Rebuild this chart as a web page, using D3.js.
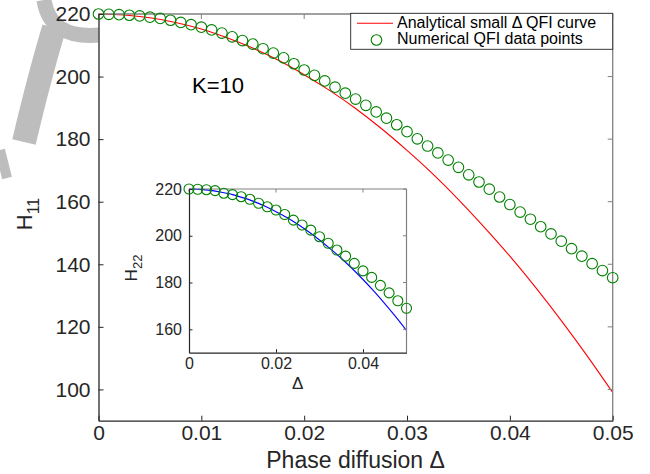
<!DOCTYPE html>
<html><head><meta charset="utf-8">
<script src="https://cdn.jsdelivr.net/npm/d3@7/dist/d3.min.js"></script>
<style>
body{margin:0;background:#fff;}
svg{display:block;font-family:"Liberation Sans",Arial,Helvetica,sans-serif;}
</style></head>
<body>
<svg id="c" width="650" height="474"></svg>
<script>
// ---- data ----
const mainDelta = [0,0.001,0.002,0.003,0.004,0.005,0.006,0.007,0.008,0.009,0.010,0.011,0.012,0.013,0.014,0.015,0.016,0.017,0.018,0.019,0.020,0.021,0.022,0.023,0.024,0.025,0.026,0.027,0.028,0.029,0.030,0.031,0.032,0.033,0.034,0.035,0.036,0.037,0.038,0.039,0.040,0.041,0.042,0.043,0.044,0.045,0.046,0.047,0.048,0.049,0.050];
const mainNumerical = [220.0,219.9,219.8,219.6,219.4,219.0,218.6,218.0,217.3,216.6,215.8,214.9,213.9,212.7,211.5,210.4,208.9,207.5,206.0,204.1,202.1,200.4,198.6,196.6,194.7,192.8,190.8,188.7,186.7,184.6,182.4,180.1,177.8,175.6,173.3,171.0,168.6,166.3,164.0,161.5,159.1,156.7,154.4,152.0,149.7,147.4,145.0,142.6,140.2,138.0,135.7];
const curveDelta = [0,0.0025,0.005,0.0075,0.01,0.0125,0.015,0.0175,0.02,0.0225,0.025,0.0275,0.03,0.0325,0.035,0.0375,0.04,0.0425,0.045,0.0475,0.05];
const mainAnalytical = [220,219.7,218.8,217.3,215.2,212.4,209.1,205.2,200.6,195.5,189.8,183.4,176.4,168.9,160.7,151.9,142.6,132.6,122.0,110.8,99.0];
const insetAnalytical = [220,219.85,219.4,218.6,217.6,216.2,214.6,212.6,210.3,207.8,204.9,201.7,198.2,194.4,190.4,186.0,181.3,176.3,171.0,165.4,159.5];
const insetDelta = [0,0.002,0.004,0.006,0.008,0.010,0.012,0.014,0.016,0.018,0.020,0.022,0.024,0.026,0.028,0.030,0.032,0.034,0.036,0.038,0.040,0.042,0.044,0.046,0.048,0.050];
const insetNumerical = [220.0,219.9,219.7,219.3,218.2,217.6,216.7,215.6,213.9,212.4,211.0,209.1,206.7,204.6,202.4,199.6,196.8,193.9,191.3,188.2,185.0,182.2,178.8,175.6,172.2,169.0];
const mainXTicks = [0,0.01,0.02,0.03,0.04,0.05];
const mainXTickLabels = ["0","0.01","0.02","0.03","0.04","0.05"];
const mainYTicks = [100,120,140,160,180,200,220];
const insetXTicks = [0,0.02,0.04];
const insetXTickLabels = ["0","0.02","0.04"];
const insetYTicks = [160,180,200,220];
const legendLabels = ["Analytical small \u0394 QFI curve","Numerical QFI data points"];

// ---- drawing ----
const svg = d3.select("#c");
const dark = "#262626", grayBox = "#808080";
const green = "#008000";

// faint gray watermark fragments (page decoration, behind the axes)
const wm = svg.append("g").attr("fill","none").attr("stroke","#bdbdbd").attr("stroke-linecap","butt");
wm.append("path").attr("d","M44,0 C48,26 66,38 100,35").attr("stroke-width",15);
wm.append("path").attr("d","M54,28 C42,68 32,108 24,142").attr("stroke-width",24);
wm.append("path").attr("d","M0,150 L7,178").attr("stroke-width",10);

function panel(g, x, y){
  const [x0,x1] = x.range(), [y0,y1] = y.range();
  g.append("rect").attr("x",x0).attr("y",y1).attr("width",x1-x0).attr("height",y0-y1).attr("fill","#fff");
  return g;
}
function frame(g, x, y, o){
  const [x0,x1] = x.range(), [y0,y1] = y.range();
  g.append("line").attr("x1",x0).attr("x2",x1).attr("y1",y1).attr("y2",y1).attr("stroke",grayBox).attr("stroke-width",o.sw);
  g.append("line").attr("x1",x1).attr("x2",x1).attr("y1",y1).attr("y2",y0).attr("stroke",grayBox).attr("stroke-width",o.sw);
  o.xt.forEach(t=>{ g.append("line").attr("x1",x(t)).attr("x2",x(t)).attr("y1",y1).attr("y2",y1+o.tl).attr("stroke",grayBox).attr("stroke-width",1);});
  o.yt.forEach(t=>{ g.append("line").attr("x1",x1).attr("x2",x1-o.tl).attr("y1",y(t)).attr("y2",y(t)).attr("stroke",grayBox).attr("stroke-width",1);});
  const ax = g.append("g").attr("transform",`translate(0,${y0})`)
    .call(d3.axisBottom(x).tickValues(o.xt).tickFormat((d,i)=>o.xl[i]).tickSizeInner(-o.tl).tickSizeOuter(0).tickPadding(o.pad));
  const ay = g.append("g").attr("transform",`translate(${x0},0)`)
    .call(d3.axisLeft(y).tickValues(o.yt).tickFormat(d3.format("d")).tickSizeInner(-o.tl).tickSizeOuter(0).tickPadding(o.padY));
  [ax,ay].forEach(a=>{
    a.select(".domain").attr("stroke",dark).attr("stroke-width",o.sw);
    a.selectAll(".tick line").attr("stroke",dark);
    a.selectAll(".tick text").attr("fill",dark).style("font-size",o.fs+"px");
  });
}

// main
const x = d3.scaleLinear().domain([0,0.05]).range([98.5,612.7]);
const y = d3.scaleLinear().domain([90,220]).range([420.7,14]);
const gMain = svg.append("g");
panel(gMain,x,y);
const line = d3.line().curve(d3.curveMonotoneX);
gMain.append("path").attr("d", line(curveDelta.map((d,i)=>[x(d),y(mainAnalytical[i])])))
  .attr("fill","none").attr("stroke","#ff0000").attr("stroke-width",1.1);
gMain.append("text").attr("x",192).attr("y",93).attr("fill","#000").style("font-size","22px").text("K=10");
frame(gMain,x,y,{xt:mainXTicks,xl:mainXTickLabels,yt:mainYTicks,tl:5,sw:1.3,fs:21,pad:4,padY:8});

// inset
const xi = d3.scaleLinear().domain([0,0.05]).range([189,406.5]);
const yi = d3.scaleLinear().domain([150,220]).range([352.7,189]);
const gIn = svg.append("g");
panel(gIn,xi,yi);
gIn.append("path").attr("d", line(curveDelta.map((d,i)=>[xi(d),yi(insetAnalytical[i])])))
  .attr("fill","none").attr("stroke","#0000ff").attr("stroke-width",1.1);
frame(gIn,xi,yi,{xt:insetXTicks,xl:insetXTickLabels,yt:insetYTicks,tl:3.5,sw:1.2,fs:16,pad:5,padY:7});
gIn.selectAll(".circ").data(insetDelta).enter().append("circle")
  .attr("cx",d=>xi(d)).attr("cy",(d,i)=>yi(insetNumerical[i])).attr("r",5)
  .attr("fill","none").attr("stroke",green).attr("stroke-width",1.1);
gIn.append("text").attr("x",(xi.range()[0]+xi.range()[1])/2).attr("y",389).attr("text-anchor","middle")
  .attr("fill",dark).style("font-size","17px").text("\u0394");
const yl2 = gIn.append("text").attr("transform","translate(137,268) rotate(-90)").attr("text-anchor","middle").attr("fill",dark).style("font-size","17px");
yl2.append("tspan").text("H");
yl2.append("tspan").attr("dy",5).style("font-size","13px").text("22");

// main circles
svg.append("g").selectAll("circle").data(mainDelta).enter().append("circle")
  .attr("cx",d=>x(d)).attr("cy",(d,i)=>y(mainNumerical[i])).attr("r",5.3)
  .attr("fill","none").attr("stroke",green).attr("stroke-width",1.1);

// axis labels
svg.append("text").attr("x",(x.range()[0]+x.range()[1])/2).attr("y",468).attr("text-anchor","middle")
  .attr("fill",dark).style("font-size","23px").text("Phase diffusion \u0394");
const yl = svg.append("text").attr("transform","translate(32,214) rotate(-90)").attr("text-anchor","middle").attr("fill",dark).style("font-size","22px");
yl.append("tspan").text("H");
yl.append("tspan").attr("dy",7).style("font-size","16px").text("11");

// legend
const lg = svg.append("g");
lg.append("rect").attr("x",350.7).attr("y",13.3).attr("width",262).attr("height",36)
  .attr("fill","#fff").attr("stroke",dark).attr("stroke-width",0.9);
lg.append("line").attr("x1",357).attr("x2",393).attr("y1",23.3).attr("y2",23.3).attr("stroke","#ff0000").attr("stroke-width",1.1);
lg.append("circle").attr("cx",376.5).attr("cy",40).attr("r",5.3).attr("fill","none").attr("stroke",green).attr("stroke-width",1.1);
lg.selectAll("text.l").data(legendLabels).enter().append("text")
  .attr("x",397).attr("y",(d,i)=>27.5+i*16.5).attr("fill","#000").style("font-size","16px").text(d=>d);
</script>
</body></html>
